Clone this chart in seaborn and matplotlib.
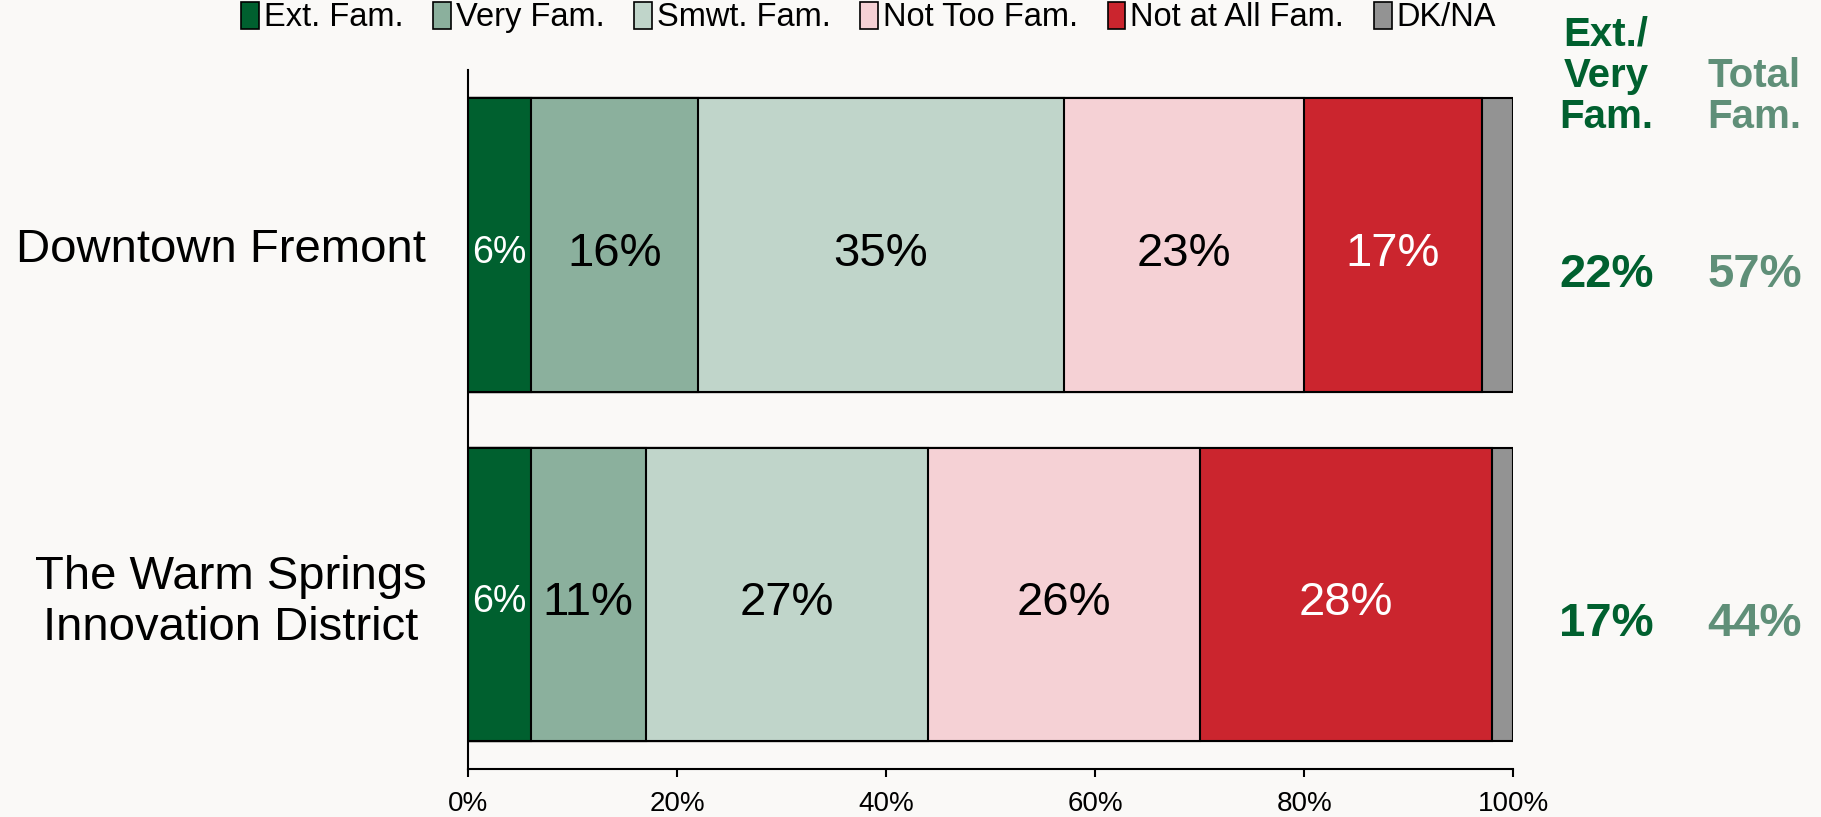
import matplotlib.pyplot as plt
import numpy as np
import pandas as pd
import seaborn as sns
from matplotlib.patches import Patch
from matplotlib.ticker import PercentFormatter
from matplotlib.transforms import blended_transform_factory

# data
groups = ["Downtown Fremont", "The Warm Springs\nInnovation District"]
levels = ["Ext. Fam.", "Very Fam.", "Smwt. Fam.", "Not Too Fam.", "Not at All Fam.", "DK/NA"]
ext_fam = [6, 6]
very_fam = [16, 11]
smwt_fam = [35, 27]
not_too_fam = [23, 26]
not_at_all_fam = [17, 28]
dk_na = [3, 2]

colors = ["#00602F", "#8BB09D", "#C0D5CA", "#F5D1D5", "#CB252E", "#939393"]
text_colors = ["white", "black", "black", "black", "white", None]
bg = "#FAF9F7"

sns.set_theme(style="white")
plt.rcParams["font.family"] = ["Liberation Sans", "DejaVu Sans"]
plt.rcParams["text.color"] = "black"
plt.rcParams["xtick.labelcolor"] = "black"
plt.rcParams["ytick.labelcolor"] = "black"

rows = []
for lev, vals in zip(levels, [ext_fam, very_fam, smwt_fam, not_too_fam, not_at_all_fam, dk_na]):
    for g, v in zip(groups, vals):
        rows.append({"group": g, "level": lev, "value": v / 100})
df = pd.DataFrame(rows)
df["level"] = pd.Categorical(df["level"], levels, ordered=True)
df = df.sort_values(["group", "level"])
df["cum"] = df.groupby("group")["value"].cumsum()
df["start"] = df["cum"] - df["value"]

fig = plt.figure(figsize=(18.21, 8.17), dpi=100, facecolor=bg)
ax = fig.add_axes([0.257, 0.0588, 0.574, 0.855])
ax.set_facecolor(bg)

# stacked bars: draw cumulative totals from the outermost segment inward
for lev, col in reversed(list(zip(levels, colors))):
    sub = df[df["level"] == lev]
    sns.barplot(data=sub, x="cum", y="group", order=groups, color=col,
                orient="h", width=0.84, edgecolor="black", linewidth=1.5,
                saturation=1, ax=ax)

pos = {g: i for i, g in enumerate(groups)}
for _, r in df.iterrows():
    tc = text_colors[levels.index(r["level"])]
    if tc is None:
        continue
    fs = 27 if r["value"] < 0.08 else 34
    ax.text(r["start"] + r["value"] / 2, pos[r["group"]] + 0.01, f"{r['value']:.0%}",
            ha="center", va="center_baseline", color=tc, fontsize=fs)

ax.set_xlim(0, 1)
ax.set_ylim(1.5, -0.5)
ax.xaxis.set_major_formatter(PercentFormatter(1.0, decimals=0))
ax.set_xticks(np.linspace(0, 1, 6))
ax.tick_params(axis="x", direction="out", length=6, width=1.5, color="black",
               labelsize=20, pad=10, bottom=True)
ax.tick_params(axis="y", length=0, labelsize=34, pad=30)
for lab in ax.get_yticklabels():
    lab.set_multialignment("center")
ax.set_xlabel("")
ax.set_ylabel("")
sns.despine(ax=ax)
for s in ["left", "bottom"]:
    ax.spines[s].set_color("black")
    ax.spines[s].set_linewidth(1.5)

# summary columns on the right
tr = blended_transform_factory(ax.transAxes, ax.transData)
top2 = df[df["level"].isin(levels[:2])].groupby("group")["value"].sum()
top3 = df[df["level"].isin(levels[:3])].groupby("group")["value"].sum()
for g in groups:
    ax.text(1.089, pos[g] + 0.085, f"{top2[g]:.0%}", transform=tr, ha="center",
            va="center", fontsize=34, fontweight="bold", color="#00602F")
    ax.text(1.231, pos[g] + 0.085, f"{top3[g]:.0%}", transform=tr, ha="center",
            va="center", fontsize=34, fontweight="bold", color="#5F8F78")

fig.text(1606 / 1821, 1 - 136 / 817, "Ext./\nVery\nFam.", ha="center", va="bottom",
         fontsize=29, fontweight="bold", color="#00602F", linespacing=1.1)
fig.text(1754 / 1821, 1 - 136 / 817, "Total\nFam.", ha="center", va="bottom",
         fontsize=29, fontweight="bold", color="#5F8F78", linespacing=1.1)

handles = [Patch(facecolor=c, edgecolor="black", linewidth=1.2) for c in colors]
fig.legend(handles, levels, loc="upper center", bbox_to_anchor=(0.477, 1.014),
           ncol=6, frameon=False, fontsize=23.5, handlelength=0.55, handleheight=0.9,
           handletextpad=0.15, columnspacing=0.9, borderaxespad=0)

fig.savefig("out.png", dpi=100, facecolor=bg)
